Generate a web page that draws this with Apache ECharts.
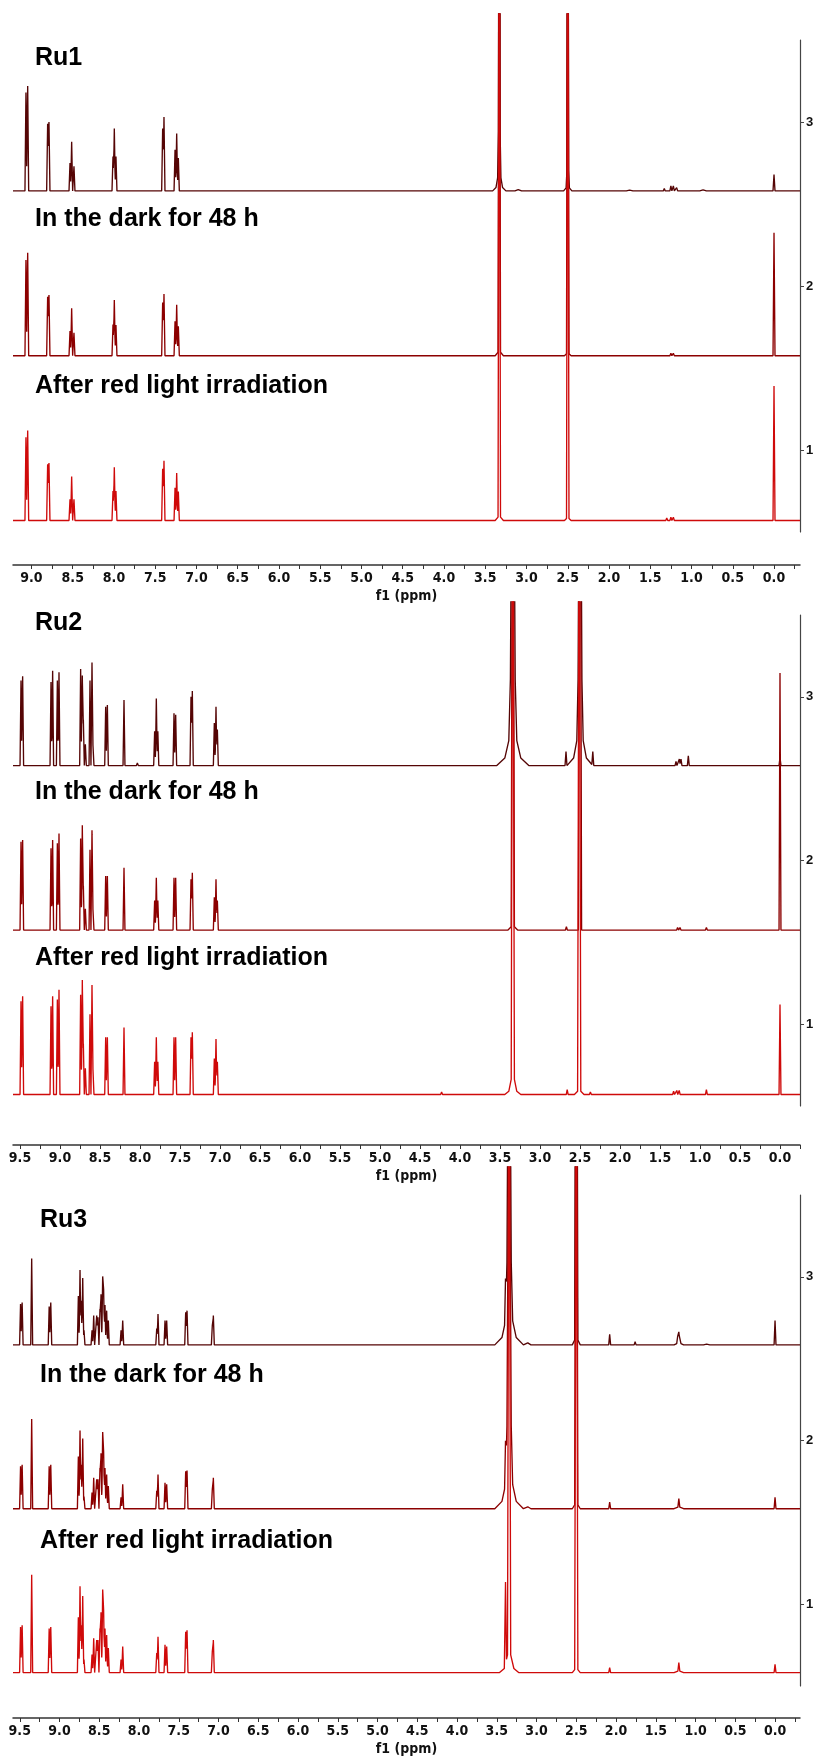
<!DOCTYPE html>
<html><head><meta charset="utf-8">
<script src="https://cdn.jsdelivr.net/npm/echarts@6/dist/echarts.min.js"></script>
<style>html,body{margin:0;padding:0;background:#fff}#c{width:819px;height:1757px}</style>
</head><body><div id="c"></div><script>
// ---------- DATA (ppm, height above trace baseline [, linewidth ppm]) ----------
const panelTitles = ['Ru1', 'Ru2', 'Ru3'];
const stateLabels = ['In the dark for 48 h', 'After red light irradiation'];
const traceOffsets = [2.58, 1.575, 0.57];
const yTickValues = [1, 2, 3];

// Ru1
const ru1Fresh = [
  [9.067,0.60],[9.046,0.64],[8.804,0.41],[8.788,0.42],
  [8.533,0.17],[8.513,0.30],[8.485,0.15],
  [8.012,0.21],[7.996,0.38],[7.976,0.21],
  [7.41,0.38],[7.394,0.45],[7.26,0.25],[7.24,0.35],[7.22,0.20],
  [3.33,0.04,0.08],[3.33,0.1,0.04],[3.33,0.5,0.02],[3.33,4.0,0.01],
  [3.10,0.008,0.04],[2.67,0.012],
  [2.50,0.03,0.05],[2.50,0.2,0.02],[2.50,4.0,0.01],
  [2.33,0.012],[1.75,0.005,0.04],
  [1.33,0.015],[1.25,0.03],[1.22,0.03],[1.18,0.02],[0.86,0.006,0.04],[0.0,0.10]
];
const ru1Dark = [
  [9.067,0.583],[9.046,0.628],[8.804,0.36],[8.788,0.37],
  [8.533,0.15],[8.513,0.29],[8.485,0.14],
  [8.012,0.19],[7.996,0.34],[7.976,0.187],
  [7.41,0.325],[7.394,0.376],[7.26,0.21],[7.24,0.31],[7.22,0.18],
  [3.33,0.03,0.05],[3.33,4.0,0.015],[2.67,0.01],[2.50,0.02,0.04],[2.50,4.0,0.015],
  [1.30,0.012],[1.25,0.015],[1.22,0.015],[0.0,0.75]
];
const ru1Red = [
  [9.067,0.508],[9.046,0.549],[8.804,0.343],[8.788,0.35],
  [8.533,0.13],[8.513,0.268],[8.485,0.13],
  [8.012,0.18],[7.996,0.325],[7.976,0.18],
  [7.41,0.315],[7.394,0.364],[7.26,0.20],[7.24,0.29],[7.22,0.177],
  [3.33,0.03,0.05],[3.33,4.0,0.015],[2.67,0.01],[2.50,0.02,0.04],[2.50,4.0,0.015],
  [1.30,0.015],[1.25,0.02],[1.22,0.02],[0.0,0.82]
];

// Ru2
const ru2Fresh = [
  [9.4875,0.52],[9.467,0.545],[9.1125,0.51],[9.092,0.58],[9.033,0.52],[9.0125,0.57],
  [8.846,0.01],[8.742,0.59],[8.721,0.55],[8.708,0.28],[8.683,0.13],
  [8.625,0.52],[8.60,0.63],[8.5875,0.13],[8.429,0.36],[8.408,0.37],[8.20,0.40],
  [8.033,0.015],[7.817,0.21],[7.796,0.41],[7.777,0.21],[7.575,0.32],[7.554,0.31],
  [7.4375,0.01],[7.3625,0.42],[7.346,0.455],[7.2625,0.01],
  [7.071,0.26],[7.05,0.36],[7.033,0.22],
  [3.34,0.092,0.2],[3.34,0.167,0.1],[3.34,0.83,0.05],[3.34,1.9,0.03],[3.34,4.0,0.015],
  [2.675,0.085],
  [2.50,0.092,0.16],[2.50,0.167,0.08],[2.50,0.83,0.04],[2.50,1.9,0.024],[2.50,4.0,0.012],
  [2.34,0.085],
  [1.30,0.025],[1.258,0.04],[1.2375,0.04],[1.146,0.06],[0.0,0.05]
];
const ru2Dark = [
  [9.4875,0.54],[9.467,0.55],[9.1125,0.50],[9.092,0.55],[9.033,0.53],[9.0125,0.59],
  [8.846,0.008],[8.742,0.56],[8.721,0.64],[8.708,0.27],[8.683,0.13],
  [8.625,0.49],[8.60,0.61],[8.5875,0.13],[8.429,0.33],[8.408,0.33],[8.20,0.38],
  [8.033,0.008],[7.817,0.18],[7.796,0.32],[7.777,0.18],[7.575,0.32],[7.554,0.32],
  [7.4375,0.008],[7.3625,0.31],[7.346,0.35],[7.2625,0.008],
  [7.071,0.20],[7.05,0.31],[7.033,0.18],
  [4.23,0.01],[3.34,0.03,0.06],[3.34,4.0,0.02],[2.67,0.02],[2.50,4.0,0.02],[2.36,0.01],
  [1.33,0.012],[1.28,0.015],[1.25,0.015],[0.92,0.015],[0.0,1.57]
];
const ru2Red = [
  [9.4875,0.57],[9.467,0.60],[9.1125,0.54],[9.092,0.60],[9.033,0.58],[9.0125,0.64],
  [8.846,0.008],[8.742,0.61],[8.721,0.70],[8.708,0.31],[8.683,0.16],
  [8.625,0.49],[8.60,0.67],[8.5875,0.16],[8.429,0.35],[8.408,0.35],[8.20,0.41],
  [8.033,0.008],[7.817,0.20],[7.796,0.35],[7.777,0.20],[7.575,0.35],[7.554,0.35],
  [7.4375,0.008],[7.3625,0.35],[7.346,0.38],[7.2625,0.008],
  [7.071,0.22],[7.05,0.34],[7.033,0.20],
  [4.23,0.015],[3.34,0.04,0.1],[3.34,0.1,0.05],[3.34,4.0,0.02],[2.66,0.03],
  [2.51,0.03,0.06],[2.51,4.0,0.02],
  [2.37,0.015],[1.65,0.005],[1.33,0.02],[1.29,0.025],[1.26,0.025],[0.92,0.03],[0.0,0.55]
];

// Ru3
const ru3Fresh = [
  [9.49,0.25],[9.47,0.26],[9.35,0.53],[9.28,0.005],[9.13,0.235],[9.11,0.26],
  [8.763,0.30],[8.742,0.46],[8.726,0.27],[8.708,0.41],[8.692,0.09],
  [8.591,0.09],[8.570,0.18],[8.532,0.18],[8.516,0.17],
  [8.491,0.22],[8.478,0.31],[8.457,0.42],[8.445,0.34],[8.428,0.245],[8.407,0.21],[8.386,0.15],
  [8.226,0.09],[8.205,0.15],[7.777,0.10],[7.761,0.19],[7.673,0.15],[7.652,0.15],
  [7.413,0.20],[7.396,0.21],[7.078,0.12],[7.065,0.18],
  [3.39,0.26],
  [3.345,0.09,0.18],[3.345,0.16,0.09],[3.345,0.8,0.045],[3.345,1.9,0.027],[3.345,4.0,0.014],
  [3.11,0.012,0.04],
  [2.68,0.01],[2.50,0.05,0.05],[2.50,4.0,0.02],[2.34,0.012],[2.08,0.065],[1.76,0.02],
  [1.225,0.04],[1.21,0.065],[1.195,0.04],[1.21,0.015,0.06],[0.86,0.005,0.04],[0.0,0.15]
];
const ru3Dark = [
  [9.49,0.26],[9.47,0.27],[9.35,0.55],[9.13,0.26],[9.11,0.27],
  [8.763,0.32],[8.742,0.48],[8.726,0.27],[8.708,0.43],[8.692,0.075],
  [8.591,0.10],[8.570,0.19],[8.532,0.18],[8.516,0.18],
  [8.491,0.25],[8.478,0.34],[8.457,0.47],[8.445,0.35],[8.428,0.25],[8.407,0.21],[8.386,0.14],
  [8.226,0.07],[8.205,0.15],[7.777,0.11],[7.761,0.21],[7.673,0.16],[7.652,0.15],
  [7.413,0.23],[7.396,0.235],[7.078,0.12],[7.065,0.19],
  [3.39,0.27],
  [3.345,0.09,0.18],[3.345,0.16,0.09],[3.345,0.8,0.045],[3.345,1.9,0.027],[3.345,4.0,0.014],
  [3.11,0.012,0.04],
  [2.50,0.04,0.05],[2.50,4.0,0.02],[2.08,0.04],[1.77,0.01],[1.21,0.05],[1.21,0.012,0.06],[0.0,0.07]
];
const ru3Red = [
  [9.49,0.28],[9.47,0.29],[9.35,0.60],[9.13,0.27],[9.11,0.28],
  [8.763,0.34],[8.742,0.53],[8.726,0.29],[8.708,0.47],[8.692,0.08],
  [8.591,0.11],[8.570,0.21],[8.532,0.20],[8.516,0.20],
  [8.491,0.27],[8.478,0.37],[8.457,0.51],[8.445,0.38],[8.428,0.27],[8.407,0.23],[8.386,0.15],
  [8.226,0.08],[8.205,0.16],[7.777,0.12],[7.761,0.22],[7.673,0.17],[7.652,0.16],
  [7.413,0.25],[7.396,0.26],[7.078,0.13],[7.065,0.20],
  [3.39,0.50],[3.345,0.05,0.12],[3.345,0.1,0.06],[3.345,4.0,0.02],
  [2.50,0.03,0.05],[2.50,4.0,0.02],[2.08,0.03],[1.77,0.01],[1.21,0.05],[1.21,0.012,0.06],[0.0,0.05]
];

const spectra = [[ru1Fresh, ru1Dark, ru1Red],[ru2Fresh, ru2Dark, ru2Red],[ru3Fresh, ru3Dark, ru3Red]];
const xRanges = [[-0.315, 9.224],[-0.25, 9.5875],[-0.314, 9.585]];

// ---------- LAYOUT / STYLE ----------
const traceColors = ['#550505', '#8c0000', '#cf0a0a'];
const SHARP_W = 0.012;
const LEFT = 13, RIGHT = 19;
const layout = [
  {axisTop: 40, axisBottom: 532, clipTop: 14, xOffset: 33, labelX: 35, labelY: [59, 220, 387]},
  {axisTop: 615, axisBottom: 1106, clipTop: 602, xOffset: 39, labelX: 35, labelY: [624, 793, 959]},
  {axisTop: 1195, axisBottom: 1686, clipTop: 1167, xOffset: 34, labelX: 40, labelY: [1221, 1376, 1542]}
];
const axisFont = '"Liberation Sans Narrow","Arial Narrow","DejaVu Sans Condensed","Liberation Sans",sans-serif';

function buildTrace(peaks, base, lo, hi) {
  const xs = [lo, hi];
  peaks.forEach(pk => { const w = pk[2] || SHARP_W; xs.push(pk[0] - w, pk[0], pk[0] + w); });
  xs.sort((a, b) => b - a);
  const out = [];
  let prev = null;
  xs.forEach(x => {
    if (x < lo || x > hi) return;
    if (prev !== null && Math.abs(x - prev) < 1e-9) return;
    prev = x;
    let y = 0;
    peaks.forEach(pk => { const w = pk[2] || SHARP_W; const d = Math.abs(x - pk[0]); if (d < w) y += pk[1] * (1 - d / w); });
    out.push([x, base + y]);
  });
  return out;
}

function stepValues(lo, hi, step) {
  const out = [];
  for (let k = Math.ceil(lo / step - 1e-9); k * step <= hi + 1e-9; k++) out.push(+(k * step).toFixed(4));
  return out;
}

const grid = [], xAxis = [], yAxis = [], series = [], graphic = [];
layout.forEach((L, i) => {
  const unit = (L.axisBottom - L.axisTop) / 3;
  const yMaxData = 0.5 + (L.axisBottom - L.clipTop) / unit;
  const [lo, hi] = xRanges[i];
  grid[i] = {left: LEFT, right: RIGHT, top: L.clipTop, height: L.axisBottom - L.clipTop};
  grid[i + 3] = {left: LEFT, right: RIGHT, top: L.axisTop, height: L.axisBottom - L.axisTop};
  xAxis[i] = {
    gridIndex: i, type: 'value', inverse: true, min: lo, max: hi, offset: L.xOffset,
    axisLine: {show: true, onZero: false, lineStyle: {color: '#333', width: 1.5}},
    axisTick: {show: true, inside: false, length: 4, customValues: stepValues(lo, hi, 0.25), lineStyle: {color: '#333', width: 1}},
    axisLabel: {customValues: stepValues(lo, hi, 0.5), formatter: v => v.toFixed(1), margin: 6,
      fontWeight: 'bold', fontSize: 14, fontFamily: axisFont, color: '#111'},
    splitLine: {show: false},
    name: 'f1 (ppm)', nameLocation: 'middle', nameGap: 24,
    nameTextStyle: {fontWeight: 'bold', fontSize: 14, fontFamily: axisFont, color: '#111'}
  };
  xAxis[i + 3] = {gridIndex: i + 3, type: 'value', inverse: true, min: lo, max: hi, show: false};
  yAxis[i] = {gridIndex: i, type: 'value', min: 0.5, max: yMaxData, show: false};
  yAxis[i + 3] = {
    gridIndex: i + 3, type: 'value', position: 'right', min: 0.5, max: 3.5,
    axisLine: {show: true, onZero: false, lineStyle: {color: '#444', width: 1.2}},
    axisTick: {show: true, inside: false, length: 4, customValues: yTickValues, lineStyle: {color: '#444'}},
    axisLabel: {customValues: yTickValues, margin: 6, fontWeight: 'bold', fontSize: 13,
      fontFamily: '"Liberation Sans",Arial,sans-serif', color: '#111'},
    splitLine: {show: false}
  };
  spectra[i].forEach((peaks, t) => {
    series.push({
      type: 'line', xAxisIndex: i, yAxisIndex: i, data: buildTrace(peaks, traceOffsets[t], lo, hi),
      showSymbol: false, symbol: 'none', clip: true, silent: true, animation: false,
      lineStyle: {color: traceColors[t], width: 1.35}
    });
  });
  const texts = [panelTitles[i], stateLabels[0], stateLabels[1]];
  texts.forEach((tx, k) => {
    graphic.push({type: 'text', left: L.labelX, top: L.labelY[k] - 13, silent: true,
      style: {text: tx, font: 'bold 25px "Liberation Sans", Arial, sans-serif', fill: '#000'}});
  });
});

const chart = echarts.init(document.getElementById('c'), null, {renderer: 'canvas'});
chart.setOption({animation: false, backgroundColor: '#fff', grid, xAxis, yAxis, series, graphic});
</script></body></html>
